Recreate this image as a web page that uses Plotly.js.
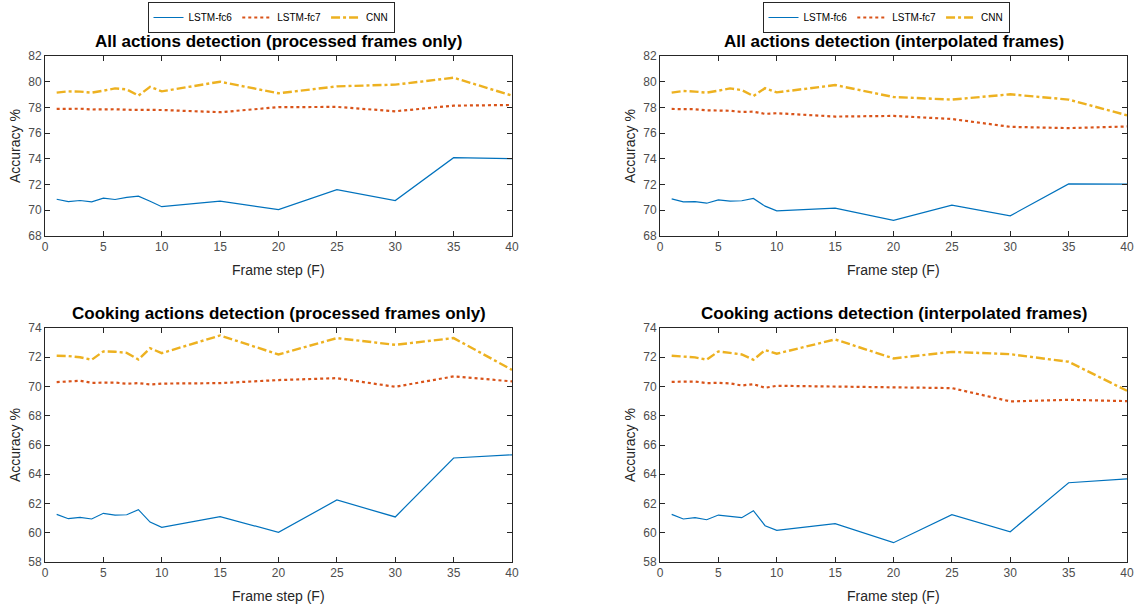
<!DOCTYPE html>
<html>
<head>
<meta charset="utf-8">
<script src="https://cdn.plot.ly/plotly-3.0.1.min.js"></script>
<style>html,body{margin:0;padding:0;background:#fff;}#chart{width:1139px;height:609px;}</style>
</head>
<body>
<div id="chart"></div>
<script>
const frameSteps = [1,2,3,4,5,6,7,8,9,10,15,20,25,30,35,40];
const seriesNames = ["LSTM-fc6","LSTM-fc7","CNN"];
const panelTitles = [
  "All actions detection (processed frames only)",
  "All actions detection (interpolated frames)",
  "Cooking actions detection (processed frames only)",
  "Cooking actions detection (interpolated frames)"
];
const xAxisLabel = "Frame step (F)";
const yAxisLabel = "Accuracy %";

// Panel 1: All actions, processed frames only
const allProcFc6 = [70.86,70.68,70.76,70.66,70.94,70.84,71.0,71.1,70.7,70.28,70.71,70.05,71.6,70.76,74.09,74.01];
const allProcFc7 = [77.88,77.88,77.9,77.84,77.86,77.86,77.82,77.82,77.82,77.8,77.63,78.02,78.04,77.7,78.14,78.19];
const allProcCnn = [79.15,79.25,79.23,79.15,79.3,79.48,79.4,78.92,79.6,79.25,80.0,79.1,79.64,79.77,80.31,78.92];

// Panel 2: All actions, interpolated frames
const allInterFc6 = [70.89,70.66,70.68,70.55,70.81,70.71,70.74,70.92,70.32,69.96,70.17,69.21,70.4,69.57,72.05,72.03];
const allInterFc7 = [77.88,77.86,77.86,77.78,77.76,77.74,77.65,77.67,77.5,77.55,77.29,77.34,77.1,76.49,76.39,76.52];
const allInterCnn = [79.15,79.28,79.23,79.15,79.3,79.48,79.35,78.89,79.5,79.17,79.74,78.81,78.61,79.02,78.61,77.39];

// Panel 3: Cooking actions, processed frames only
const cookProcFc6 = [61.26,60.96,61.05,60.94,61.33,61.21,61.23,61.58,60.73,60.37,61.1,60.03,62.24,61.08,65.11,65.33];
const cookProcFc7 = [70.3,70.35,70.39,70.25,70.27,70.27,70.19,70.23,70.14,70.2,70.23,70.44,70.57,69.98,70.69,70.35];
const cookProcCnn = [72.1,72.08,72.0,71.83,72.4,72.38,72.3,71.85,72.62,72.28,73.49,72.19,73.31,72.85,73.31,71.14];

// Panel 4: Cooking actions, interpolated frames
const cookInterFc6 = [61.26,60.94,61.03,60.89,61.21,61.12,61.03,61.51,60.48,60.16,60.62,59.32,61.23,60.07,63.42,63.69];
const cookInterFc7 = [70.32,70.32,70.34,70.23,70.25,70.21,70.07,70.16,69.91,70.05,69.98,69.96,69.89,68.98,69.09,69.0];
const cookInterCnn = [72.1,72.06,71.99,71.83,72.4,72.3,72.19,71.83,72.49,72.24,73.22,71.92,72.37,72.21,71.69,69.71];

const panelData = [
  [allProcFc6, allProcFc7, allProcCnn],
  [allInterFc6, allInterFc7, allInterCnn],
  [cookProcFc6, cookProcFc7, cookProcCnn],
  [cookInterFc6, cookInterFc7, cookInterCnn]
];
const yRanges = [[68,82],[68,82],[58,74],[58,74]];

const W = 1139, H = 609;
const colors = ["#0072BD","#D95319","#EDB120"];
const dashes = ["solid","dot","dashdot"];
const widths = [1.2,2.2,2.4];
const xDom = [[45/W,512/W],[660/W,1127/W],[45/W,512/W],[660/W,1127/W]];
const yDom = [[(H-236)/H,(H-56)/H],[(H-236)/H,(H-56)/H],[(H-562)/H,(H-328)/H],[(H-562)/H,(H-328)/H]];

const traces = [];
const layout = {
  width: W, height: H,
  margin: {l:0,r:0,t:0,b:0},
  paper_bgcolor: "#fff", plot_bgcolor: "#fff",
  font: {family: "Liberation Sans, Arial, sans-serif", color: "#262626", size: 12},
  annotations: [],
  showlegend: true
};
const font = "Liberation Sans, Arial, sans-serif";

for (let p = 0; p < 4; p++) {
  const ax = p === 0 ? "" : String(p+1);
  for (let s = 0; s < 3; s++) {
    traces.push({
      x: frameSteps, y: panelData[p][s],
      type: "scatter", mode: "lines",
      name: seriesNames[s],
      xaxis: "x"+ax, yaxis: "y"+ax,
      line: {color: colors[s], dash: dashes[s], width: widths[s]},
      showlegend: p < 2,
      legend: p === 0 ? "legend" : "legend2",
      hoverinfo: "x+y+name"
    });
  }
  const common = {
    showline: true, linecolor: "#262626", linewidth: 1, mirror: "allticks",
    ticks: "inside", ticklen: 5, tickcolor: "#262626", tickwidth: 1,
    showgrid: false, zeroline: false,
    tickfont: {family: font, size: 12, color: "#4d4d4d"}
  };
  layout["xaxis"+ax] = Object.assign({}, common, {
    domain: xDom[p], anchor: "y"+ax, range: [0,40], dtick: 5, tick0: 0
  });
  layout["yaxis"+ax] = Object.assign({}, common, {
    domain: yDom[p], anchor: "x"+ax, range: yRanges[p], dtick: 2
  });
  const cx = (xDom[p][0]+xDom[p][1])/2;
  layout.annotations.push({
    xref: "paper", yref: "paper", x: cx, y: yDom[p][1] + 3/H,
    xanchor: "center", yanchor: "bottom", showarrow: false,
    text: "<b>"+panelTitles[p]+"</b>",
    font: {family: font, size: 17, color: "#000"}
  });
  layout.annotations.push({
    xref: "paper", yref: "paper", x: cx, y: yDom[p][0] - 24/H,
    xanchor: "center", yanchor: "top", showarrow: false,
    text: xAxisLabel, font: {family: font, size: 14, color: "#262626"}
  });
  layout.annotations.push({
    xref: "paper", yref: "paper", x: xDom[p][0] - 30/W, y: (yDom[p][0]+yDom[p][1])/2,
    xanchor: "center", yanchor: "middle", showarrow: false, textangle: -90,
    text: yAxisLabel, font: {family: font, size: 14, color: "#262626"}
  });
}

const legendBase = {
  orientation: "h", yanchor: "top", y: 1 - 2/H, xanchor: "center",
  bordercolor: "#262626", borderwidth: 1, bgcolor: "#fff",
  font: {family: font, size: 10, color: "#000"},
  itemwidth: 30, tracegroupgap: 0, valign: "middle"
};
layout.legend = Object.assign({}, legendBase, {x: 271/W});
layout.legend2 = Object.assign({}, legendBase, {x: 886/W});

Plotly.newPlot("chart", traces, layout, {displayModeBar: false, staticPlot: true});
</script>
</body>
</html>
